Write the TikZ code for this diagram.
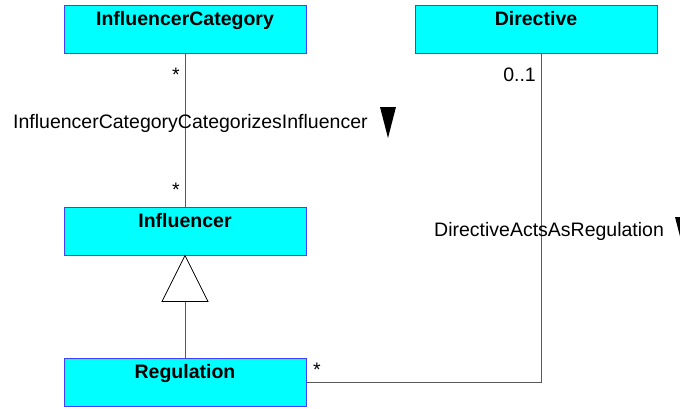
\documentclass[tikz,border=0pt]{standalone}
\usepackage{fontspec}
\setmainfont{Liberation Sans}
\definecolor{boxcyan}{RGB}{0,255,255}
\definecolor{boxblue}{RGB}{64,64,255}
\tikzset{
  classbox/.style={draw=boxblue, fill=boxcyan, line width=1pt, minimum width=242pt,
    inner sep=0pt, text height=20pt, text depth=28pt,
    font=\fontsize{19.5}{22}\selectfont\bfseries},
  assoc/.style={draw=black!65, line width=1pt},
  lbl/.style={inner sep=0pt, font=\fontsize{19.5}{22}\selectfont},
}
\begin{document}
\begin{tikzpicture}[x=1pt,y=-1pt]
\useasboundingbox (0,0) rectangle (680,408);
% classes
\node[classbox] (cat) at (185,29) {InfluencerCategory};
\node[classbox] (dir) at (536,29) {Directive};
\node[classbox] (inf) at (185,231) {Influencer};
\node[classbox] (reg) at (185,382) {Regulation};
% InfluencerCategoryCategorizesInfluencer
\draw[assoc] (cat.south) -- (inf.north);
\node[lbl, anchor=base east] (m1) at (180,81) {*};
\node[lbl, anchor=base east] (m2) at (180,196) {*};
\node[lbl, anchor=base west] (a1) at (13,128) {InfluencerCategoryCategorizesInfluencer};
\fill (380,107) -- ++(16,0) -- ++(-8,31) -- cycle;
% generalization
\draw[black, line width=0.8pt, fill=white] (inf.south) -- ++(-23,46) -- ++(46,0) -- cycle;
\path (inf.south) ++(0,46) coordinate (genbase);
\draw[assoc] (genbase) -- (reg.north);
% DirectiveActsAsRegulation
\draw[assoc] (reg.east) -| ([xshift=5pt]dir.south);
\node[lbl, anchor=base east] (m3) at (536,81) {0..1};
\node[lbl, anchor=base west] (m4) at (313,376) {*};
\node[lbl, anchor=base west] (a2) at (434,236) {DirectiveActsAsRegulation};
\fill (675,217) -- ++(16,0) -- ++(-8,31) -- cycle;
\end{tikzpicture}
\end{document}
